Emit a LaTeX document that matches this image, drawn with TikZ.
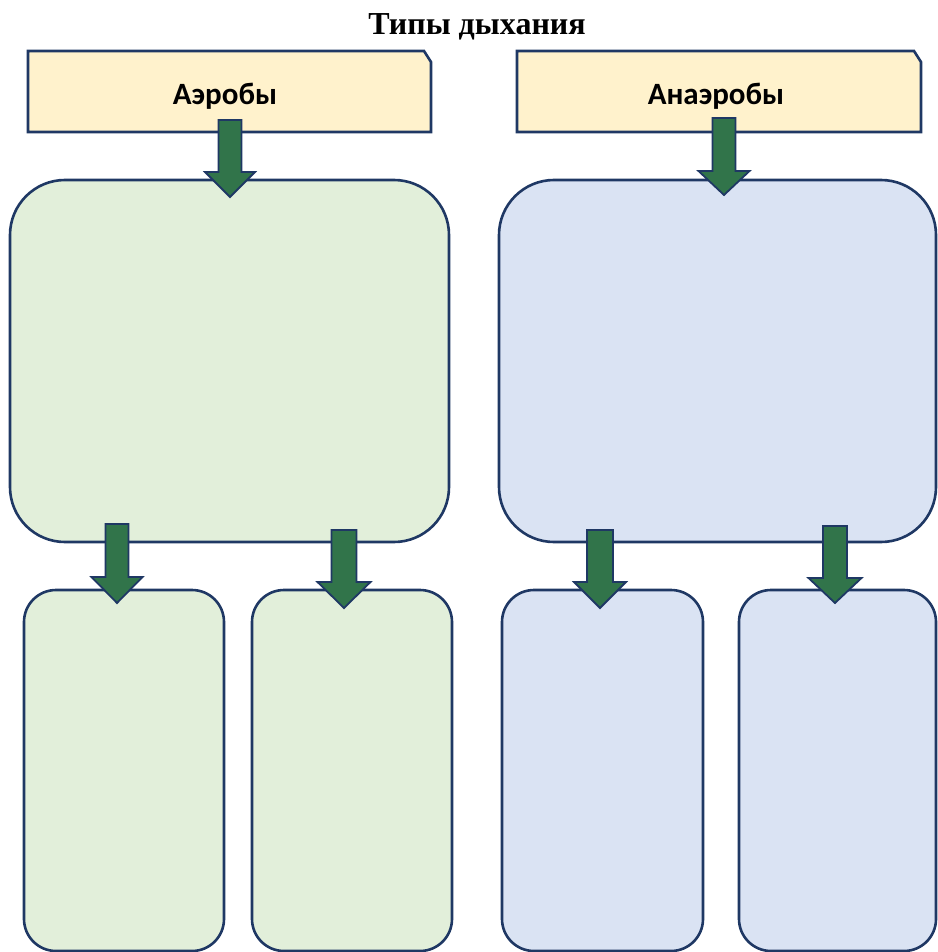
\documentclass[tikz,border=0pt]{standalone}
\usepackage{fontspec}
\setmainfont{Liberation Serif}
\newfontfamily\labelfont{Carlito}
\begin{document}
\begin{tikzpicture}[x=1pt,y=-1pt,
  edge/.style={draw=bordercol,line width=2.6pt},
  headbox/.style={edge,fill=headfill},
  aerobox/.style={edge,fill=greenfill,rounded corners=#1,inner sep=0pt},
  anaebox/.style={edge,fill=bluefill,rounded corners=#1,inner sep=0pt},
  blockarr/.style={draw=bordercol,line width=1.8pt,fill=arrowfill,line join=miter},
  lbl/.style={font=\labelfont\bfseries\fontsize{31}{36}\selectfont,text=black},
]
\definecolor{bordercol}{HTML}{1F3864}
\definecolor{headfill}{HTML}{FFF2CC}
\definecolor{greenfill}{HTML}{E2EFDA}
\definecolor{bluefill}{HTML}{DAE3F3}
\definecolor{arrowfill}{HTML}{31744A}
\useasboundingbox (0,0) rectangle (937,952);

% title
\node[font=\bfseries\fontsize{32}{36}\selectfont] (title) at (477,27) {Типы дыхания};

% header boxes
\draw[headbox] (28,51) -- (424,51) -- (431,62) -- (431,132) -- (28,132) -- cycle;
\node[lbl] (aero) at (225,96) {Аэробы};
\draw[headbox] (517,51) -- (914,51) -- (921,62) -- (921,132) -- (517,132) -- cycle;
\node[lbl] (anae) at (716,96) {Анаэробы};

% big boxes
\node[aerobox=55pt,minimum width=439pt,minimum height=362pt] (abig) at (229.5,361) {};
\node[anaebox=55pt,minimum width=437pt,minimum height=362pt] (nbig) at (717.5,361) {};

% small boxes
\node[aerobox=32pt,minimum width=200pt,minimum height=361pt] (a1) at (124,770.5) {};
\node[aerobox=32pt,minimum width=200pt,minimum height=361pt] (a2) at (352,770.5) {};
\node[anaebox=32pt,minimum width=201pt,minimum height=361pt] (n1) at (602.5,770.5) {};
\node[anaebox=32pt,minimum width=197pt,minimum height=361pt] (n2) at (837.5,770.5) {};

% block arrows: \blockarrow{cx}{ytop}{yhead}{ytip}{shaft half}{head half}
\newcommand{\blockarrow}[6]{%
  \draw[blockarr] (#1-#5,#2) -- (#1+#5,#2) -- (#1+#5,#3) -- (#1+#6,#3) -- (#1,#4)
    -- (#1-#6,#3) -- (#1-#5,#3) -- cycle;}
\blockarrow{230}{120}{172}{197}{11.5}{25}
\blockarrow{724}{118}{171}{195}{11.5}{25.5}
\blockarrow{117}{524}{577}{603}{11.5}{25.5}
\blockarrow{344}{530}{582}{608}{12.5}{26.5}
\blockarrow{600}{530}{582}{608}{13}{26}
\blockarrow{835}{526}{578}{603}{12}{26.5}
\end{tikzpicture}
\end{document}
